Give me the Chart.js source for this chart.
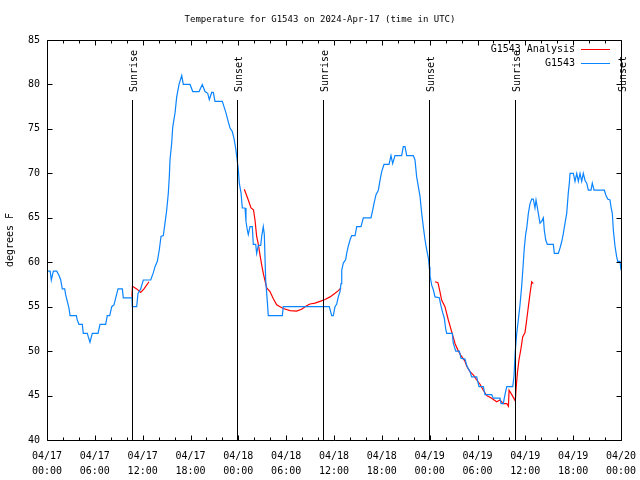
<!DOCTYPE html>
<html><head><meta charset="utf-8">
<script src="https://cdn.jsdelivr.net/npm/chart.js@4.4.0/dist/chart.umd.min.js"></script>
<style>html,body{margin:0;padding:0;background:#fff}</style>
</head><body>
<canvas id="c" width="640" height="480"></canvas>
<script>
// hours since 2024-04-17 00:00 UTC, temperature in degrees F
const g1543 = [[0.05,59.0],[0.40,59.0],[0.54,58.0],[0.80,59.0],[1.22,59.0],[1.51,58.5],[1.72,58.0],[1.92,57.0],[2.22,57.0],[2.35,56.3],[2.55,55.6],[2.76,54.8],[2.89,54.0],[3.68,54.0],[3.80,53.5],[4.01,53.0],[4.43,53.0],[4.55,52.0],[5.06,52.0],[5.18,51.6],[5.39,51.0],[5.68,52.0],[6.40,52.0],[6.65,53.0],[7.36,53.0],[7.56,54.0],[7.87,54.0],[8.12,55.0],[8.40,55.2],[8.62,56.0],[8.91,57.0],[9.45,57.0],[9.57,56.0],[10.66,56.0],[10.70,55.0],[11.25,55.0],[11.41,56.5],[11.75,57.0],[12.08,58.0],[13.01,58.0],[13.33,58.8],[13.55,59.5],[13.84,60.1],[14.09,61.4],[14.30,62.9],[14.59,63.0],[14.80,64.4],[15.02,65.9],[15.22,67.8],[15.34,69.6],[15.43,71.5],[15.64,73.4],[15.77,75.2],[16.06,76.8],[16.27,78.6],[16.56,80.0],[16.90,81.0],[17.10,80.0],[17.94,80.0],[18.28,79.2],[19.07,79.2],[19.48,80.0],[19.82,79.2],[20.16,79.0],[20.36,78.3],[20.66,79.1],[20.86,79.1],[21.07,78.1],[21.99,78.1],[22.20,77.5],[22.45,76.8],[22.74,75.8],[22.96,75.1],[23.24,74.7],[23.46,73.9],[23.67,72.8],[23.80,71.9],[24.00,70.4],[24.12,68.9],[24.34,67.8],[24.50,66.1],[24.84,66.1],[24.96,64.6],[25.13,63.6],[25.25,63.1],[25.46,64.0],[25.75,64.0],[25.88,62.0],[26.18,62.0],[26.30,61.0],[26.51,61.9],[26.81,61.9],[26.93,62.9],[27.13,64.0],[27.26,63.1],[27.43,58.0],[27.56,56.5],[27.76,54.0],[29.52,54.0],[29.64,55.0],[35.41,55.0],[35.71,54.0],[35.91,54.0],[36.13,55.0],[36.34,55.3],[36.54,56.1],[36.75,56.7],[36.88,57.6],[36.97,59.1],[37.17,59.9],[37.47,60.3],[37.59,61.0],[37.79,61.8],[38.01,62.5],[38.22,63.0],[38.64,63.0],[38.85,64.0],[39.39,64.0],[39.68,65.0],[40.64,65.0],[40.86,65.9],[41.06,66.8],[41.27,67.6],[41.56,68.1],[41.77,69.2],[41.98,70.2],[42.27,71.0],[42.90,71.0],[43.15,72.0],[43.36,71.1],[43.65,72.0],[44.49,72.0],[44.69,73.0],[44.91,73.0],[45.12,72.0],[45.95,72.0],[46.16,71.5],[46.37,69.6],[46.58,68.5],[46.79,67.4],[47.00,65.5],[47.20,64.0],[47.42,62.5],[47.63,61.4],[47.83,60.5],[47.95,59.5],[48.04,58.5],[48.26,57.4],[48.46,56.9],[48.67,56.1],[49.21,56.0],[49.42,55.1],[49.64,54.3],[49.84,53.7],[50.01,52.5],[50.14,52.0],[50.84,52.0],[50.96,50.9],[51.27,50.0],[51.72,50.0],[51.93,49.2],[52.43,49.1],[52.65,48.4],[52.85,48.0],[53.06,47.7],[53.27,47.1],[53.90,47.1],[54.03,46.6],[54.19,46.0],[54.73,46.0],[54.94,45.1],[55.78,45.1],[55.98,44.7],[56.82,44.7],[56.95,44.1],[57.24,44.1],[57.36,44.7],[57.45,45.1],[57.67,46.0],[58.42,46.0],[58.58,47.2],[58.74,50.0],[58.92,52.0],[59.12,53.5],[59.33,55.2],[59.55,57.4],[59.75,60.0],[59.87,61.6],[60.05,63.2],[60.17,63.8],[60.38,65.5],[60.59,66.6],[60.80,67.1],[61.00,67.1],[61.21,66.1],[61.34,67.0],[61.50,66.2],[61.63,65.5],[61.84,64.4],[62.05,64.6],[62.26,65.0],[62.38,63.6],[62.56,62.5],[62.76,62.0],[63.51,62.0],[63.64,61.0],[64.14,61.0],[64.35,61.6],[64.56,62.3],[64.76,63.2],[64.98,64.4],[65.19,65.5],[65.39,67.8],[65.52,68.9],[65.61,70.0],[66.02,70.0],[66.23,69.1],[66.45,70.0],[66.65,69.1],[66.86,70.0],[67.07,69.1],[67.27,70.0],[67.49,69.2],[67.70,68.9],[67.90,68.1],[68.24,68.1],[68.40,68.9],[68.62,68.1],[69.91,68.1],[70.08,67.6],[70.33,67.1],[70.62,67.0],[70.75,66.2],[70.91,65.5],[71.04,63.6],[71.25,61.8],[71.46,60.6],[71.59,60.1],[71.88,60.1],[72.00,59.1]];

const g1543Analysis = [[10.66,56.1],[10.72,57.3],[11.25,57.0],[11.75,56.6],[12.17,57.0],[12.79,57.8],
[13.0,null],
[24.75,68.2],[25.25,67.0],[25.59,66.1],[25.90,65.9],[26.09,64.75],[26.30,62.9],[26.51,62.0],[26.72,60.8],[26.93,59.7],[27.13,58.75],[27.43,57.6],[27.56,57.1],[27.97,56.7],[28.39,55.9],[28.81,55.2],[29.23,55.0],[29.64,54.8],[30.48,54.55],[31.31,54.5],[31.94,54.7],[32.56,55.1],[32.99,55.3],[33.61,55.4],[34.24,55.6],[34.87,55.8],[35.50,56.1],[36.13,56.5],[36.54,56.8],[36.88,57.1],
[37.0,null],
[48.67,57.8],[49.04,57.7],[49.29,56.7],[49.50,55.75],[49.92,55.0],[50.34,53.5],[50.76,52.2],[51.2,50.8],[51.6,50.0],[52.0,49.4],[52.4,48.9],[52.65,48.3],[53.06,47.7],[53.5,47.3],[53.90,46.75],[54.3,46.3],[54.73,45.6],[55.15,45.0],[55.78,44.7],[56.4,44.3],[56.82,44.5],[57.24,44.1],[57.67,44.1],[57.88,43.8],[57.96,45.6],[58.3,45.1],[58.74,44.4],[58.86,46.0],[59.0,47.5],[59.2,49.0],[59.42,50.1],[59.67,51.6],[59.96,52.1],[60.17,53.5],[60.38,55.0],[60.59,56.5],[60.80,57.8],[61.0,57.6]];

const sunriseHours = [10.68, 34.67, 58.74];
const sunsetHours = [23.88, 47.97, 72.0];
const xTickDates = ['04/17','04/17','04/17','04/17','04/18','04/18','04/18','04/18','04/19','04/19','04/19','04/19','04/20'];
const xTickTimes = ['00:00','06:00','12:00','18:00','00:00','06:00','12:00','18:00','00:00','06:00','12:00','18:00','00:00'];
const titleText = 'Temperature for G1543 on 2024-Apr-17 (time in UTC)';

const FONT = '"DejaVu Sans Mono", "Liberation Mono", monospace';
const BLUE = '#0a84ff';
const RED = '#ff0000';

const decor = {
  id: 'decor',
  afterDatasetsDraw(chart) {
    const {ctx, chartArea: a, scales: {x, y}} = chart;
    ctx.save();
    ctx.strokeStyle = '#000';
    ctx.fillStyle = '#000';
    ctx.lineWidth = 1;
    const L = Math.round(a.left) + 0.5, R = Math.round(a.right) + 0.5;
    const T = Math.round(a.top) + 0.5, B = Math.round(a.bottom) + 0.5;
    ctx.font = '10px ' + FONT;
    const ev = sunriseHours.map(h => [h, 'Sunrise']).concat(sunsetHours.map(h => [h, 'Sunset']));
    ev.forEach(([h, label]) => {
      const px = Math.round(x.getPixelForValue(h)) + 0.5;
      ctx.beginPath(); ctx.moveTo(px, 100); ctx.lineTo(px, B); ctx.stroke();
      ctx.save();
      ctx.translate(px + 1.5, 92);
      ctx.rotate(-Math.PI / 2);
      ctx.textAlign = 'left'; ctx.textBaseline = 'middle';
      ctx.fillText(label, 0, 0);
      ctx.restore();
    });
    ctx.beginPath();
    ctx.rect(L, T, R - L, B - T);
    ctx.stroke();
    ctx.beginPath();
    for (let h = 0; h <= 72; h += 2) {
      const px = Math.round(x.getPixelForValue(h)) + 0.5;
      const len = (h % 6 === 0) ? 5 : 3;
      ctx.moveTo(px, B); ctx.lineTo(px, B - len);
      ctx.moveTo(px, T); ctx.lineTo(px, T + len);
    }
    for (let v = 40; v <= 85; v += 5) {
      const py = Math.round(y.getPixelForValue(v)) + 0.5;
      ctx.moveTo(L, py); ctx.lineTo(L + 5, py);
      ctx.moveTo(R, py); ctx.lineTo(R - 5, py);
    }
    ctx.stroke();
    ctx.font = '9px ' + FONT;
    ctx.textAlign = 'center'; ctx.textBaseline = 'middle';
    ctx.fillText(titleText, 320, 20);
    ctx.font = '10px ' + FONT;
    const items = [[chart.data.datasets[1].label, RED, 49.5], [chart.data.datasets[0].label, BLUE, 63.5]];
    ctx.textAlign = 'right';
    items.forEach(([t, c, yy]) => {
      ctx.fillStyle = '#000';
      ctx.fillText(t, 575, yy);
      ctx.strokeStyle = c;
      ctx.beginPath(); ctx.moveTo(581, Math.floor(yy) + 0.5); ctx.lineTo(610, Math.floor(yy) + 0.5); ctx.stroke();
    });
    ctx.restore();
  }
};

const toPts = arr => arr.map(([h, t]) => ({x: h, y: t}));

new Chart(document.getElementById('c'), {
  type: 'line',
  data: {
    datasets: [
      {label: 'G1543', data: toPts(g1543), borderColor: BLUE, borderWidth: 1.2, pointRadius: 0, tension: 0, order: 0, spanGaps: false},
      {label: 'G1543 Analysis', data: toPts(g1543Analysis), borderColor: RED, borderWidth: 1.2, pointRadius: 0, tension: 0, order: 1, spanGaps: false}
    ]
  },
  options: {
    responsive: false,
    animation: false,
    devicePixelRatio: 1,
    layout: {padding: {top: 40, right: 19, left: 0, bottom: 0}},
    plugins: {legend: {display: false}, tooltip: {enabled: false}, title: {display: false}},
    scales: {
      x: {
        type: 'linear', min: 0, max: 72,
        grid: {display: false, drawTicks: false},
        border: {display: false},
        ticks: {
          stepSize: 6, autoSkip: false, maxRotation: 0, minRotation: 0,
          color: '#000', padding: 9,
          font: {family: FONT, size: 10, lineHeight: 1.5},
          callback: (v, i) => [xTickDates[i], xTickTimes[i]]
        },
        afterFit(s) { s.height = 40; s.paddingLeft = 0; s.paddingRight = 0; }
      },
      y: {
        min: 40, max: 85,
        grid: {display: false, drawTicks: false},
        border: {display: false},
        ticks: {stepSize: 5, color: '#000', padding: 7, font: {family: FONT, size: 10}},
        title: {display: true, text: 'degrees F', color: '#000', padding: {top: 4, bottom: 0}, font: {family: FONT, size: 10}},
        afterFit(s) { s.width = 47; s.paddingTop = 0; s.paddingBottom = 0; }
      }
    }
  },
  plugins: [decor]
});
</script>
</body></html>
